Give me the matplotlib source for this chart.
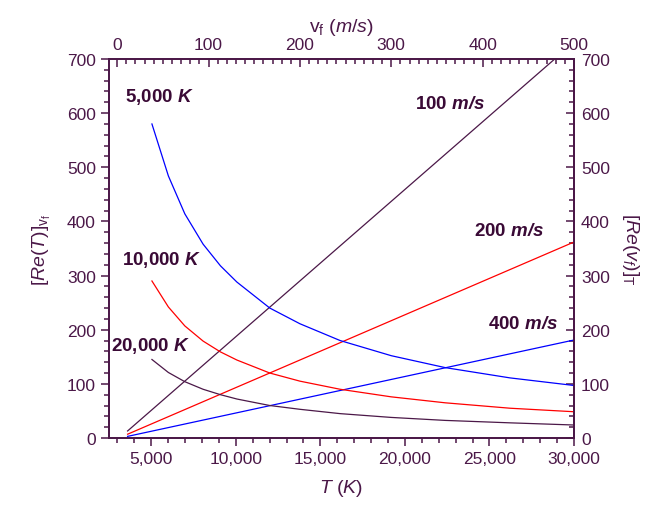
import matplotlib
matplotlib.use('Agg')
import matplotlib.pyplot as plt
from matplotlib.ticker import MultipleLocator, FuncFormatter

plt.rcParams['font.family'] = ['Liberation Sans', 'DejaVu Sans']
plt.rcParams['mathtext.fontset'] = 'custom'
plt.rcParams['mathtext.rm'] = 'Liberation Sans'
plt.rcParams['mathtext.it'] = 'Liberation Sans:italic'
plt.rcParams['mathtext.bf'] = 'Liberation Sans:bold'
plt.rcParams['mathtext.bfit'] = 'Liberation Sans:bold:italic'

PURPLE = '#4b1848'
DARK = '#3a0a36'

# Re vs T at fixed flow speed (bottom axis)
T_line = [3600, 30000]
re_100 = [13, 731]
re_200 = [7, 362]
re_400 = [3, 181]

# Re vs flow speed at fixed T (top axis)
v_f = [38, 56, 74, 94, 113, 131, 167, 200, 244, 300, 359, 430, 500]
re_5000 = [580, 484, 414, 358, 318, 288, 240, 211, 180, 152, 130, 111, 97]
re_10000 = [290, 242, 207, 179, 159, 144, 120, 105, 90, 76, 65, 55, 48.5]
re_20000 = [145, 121, 104, 90, 80, 72, 60, 53, 45, 38, 32.5, 28, 24]

fig = plt.figure(figsize=(6.45, 5.06), dpi=100)
ax = fig.add_axes([109 / 645, 1 - 439 / 506, 465 / 645, 379 / 506])

ax.plot(T_line, re_100, color=PURPLE, lw=0.9)
ax.plot(T_line, re_200, color='#ff0000', lw=0.9)
ax.plot(T_line, re_400, color='#0000ff', lw=0.9)
ax.set_xlim(2500, 30000)
ax.set_ylim(0, 700)

ax_top = ax.twiny()
ax_top.plot(v_f, re_5000, color='#0000ff', lw=0.9)
ax_top.plot(v_f, re_10000, color='#ff0000', lw=0.9)
ax_top.plot(v_f, re_20000, color=PURPLE, lw=0.9)
ax_top.set_xlim(-9, 500)

ax_right = ax.secondary_yaxis('right')

for spine in list(ax.spines.values()) + list(ax_top.spines.values()):
    spine.set_color(PURPLE)
    spine.set_linewidth(1.3)
for spine in ax_right.spines.values():
    spine.set_color(PURPLE)
    spine.set_linewidth(1.3)

ax.xaxis.set_major_locator(MultipleLocator(5000))
ax.xaxis.set_minor_locator(MultipleLocator(1000))
ax.xaxis.set_major_formatter(FuncFormatter(lambda x, p: '{:,.0f}'.format(x)))
ax.yaxis.set_major_locator(MultipleLocator(100))
ax.yaxis.set_minor_locator(MultipleLocator(20))
ax.tick_params(which='both', direction='out', colors=PURPLE, labelsize=12.5, width=1.1)
ax.tick_params(which='major', length=6)
ax.tick_params(which='minor', length=3.5)

ax_top.xaxis.set_major_locator(MultipleLocator(100))
ax_top.xaxis.set_minor_locator(MultipleLocator(10))
ax_top.tick_params(which='both', direction='in', colors=PURPLE, labelsize=12.5, width=1.1, pad=5)
ax_top.tick_params(which='major', length=6)
ax_top.tick_params(which='minor', length=3.5)

ax_right.yaxis.set_major_locator(MultipleLocator(100))
ax_right.yaxis.set_minor_locator(MultipleLocator(20))
ax_right.tick_params(which='both', direction='in', colors=PURPLE, labelsize=12.5, width=1.1, pad=5)
ax_right.tick_params(which='major', length=6)
ax_right.tick_params(which='minor', length=3.5)

ax.set_xlabel(r'$T$ ($K$)', fontsize=14, color=PURPLE, labelpad=8)
ax.set_ylabel(r'$[Re(T)]_{\mathrm{v}_{\mathrm{f}}}$', fontsize=14, color=PURPLE, labelpad=10)
ax_top.set_xlabel(r'v$_\mathrm{f}$ ($m/s$)', fontsize=14, color=PURPLE, labelpad=4)
ax_right.set_ylabel(r'$[Re(v_f)]_\mathrm{T}$', fontsize=14, color=PURPLE, rotation=270, labelpad=22)

txt = dict(fontsize=13.5, fontweight='bold', color=DARK, ha='left', va='center')
ax.text(3450, 632, r'5,000 $\mathbfit{K}$', **txt)
ax.text(3270, 331, r'10,000 $\mathbfit{K}$', **txt)
ax.text(2620, 172, r'20,000 $\mathbfit{K}$', **txt)
ax.text(20600, 617, r'100 $\mathbfit{m/s}$', **txt)
ax.text(24090, 384, r'200 $\mathbfit{m/s}$', **txt)
ax.text(24910, 211, r'400 $\mathbfit{m/s}$', **txt)

fig.savefig('out.png', dpi=100)
